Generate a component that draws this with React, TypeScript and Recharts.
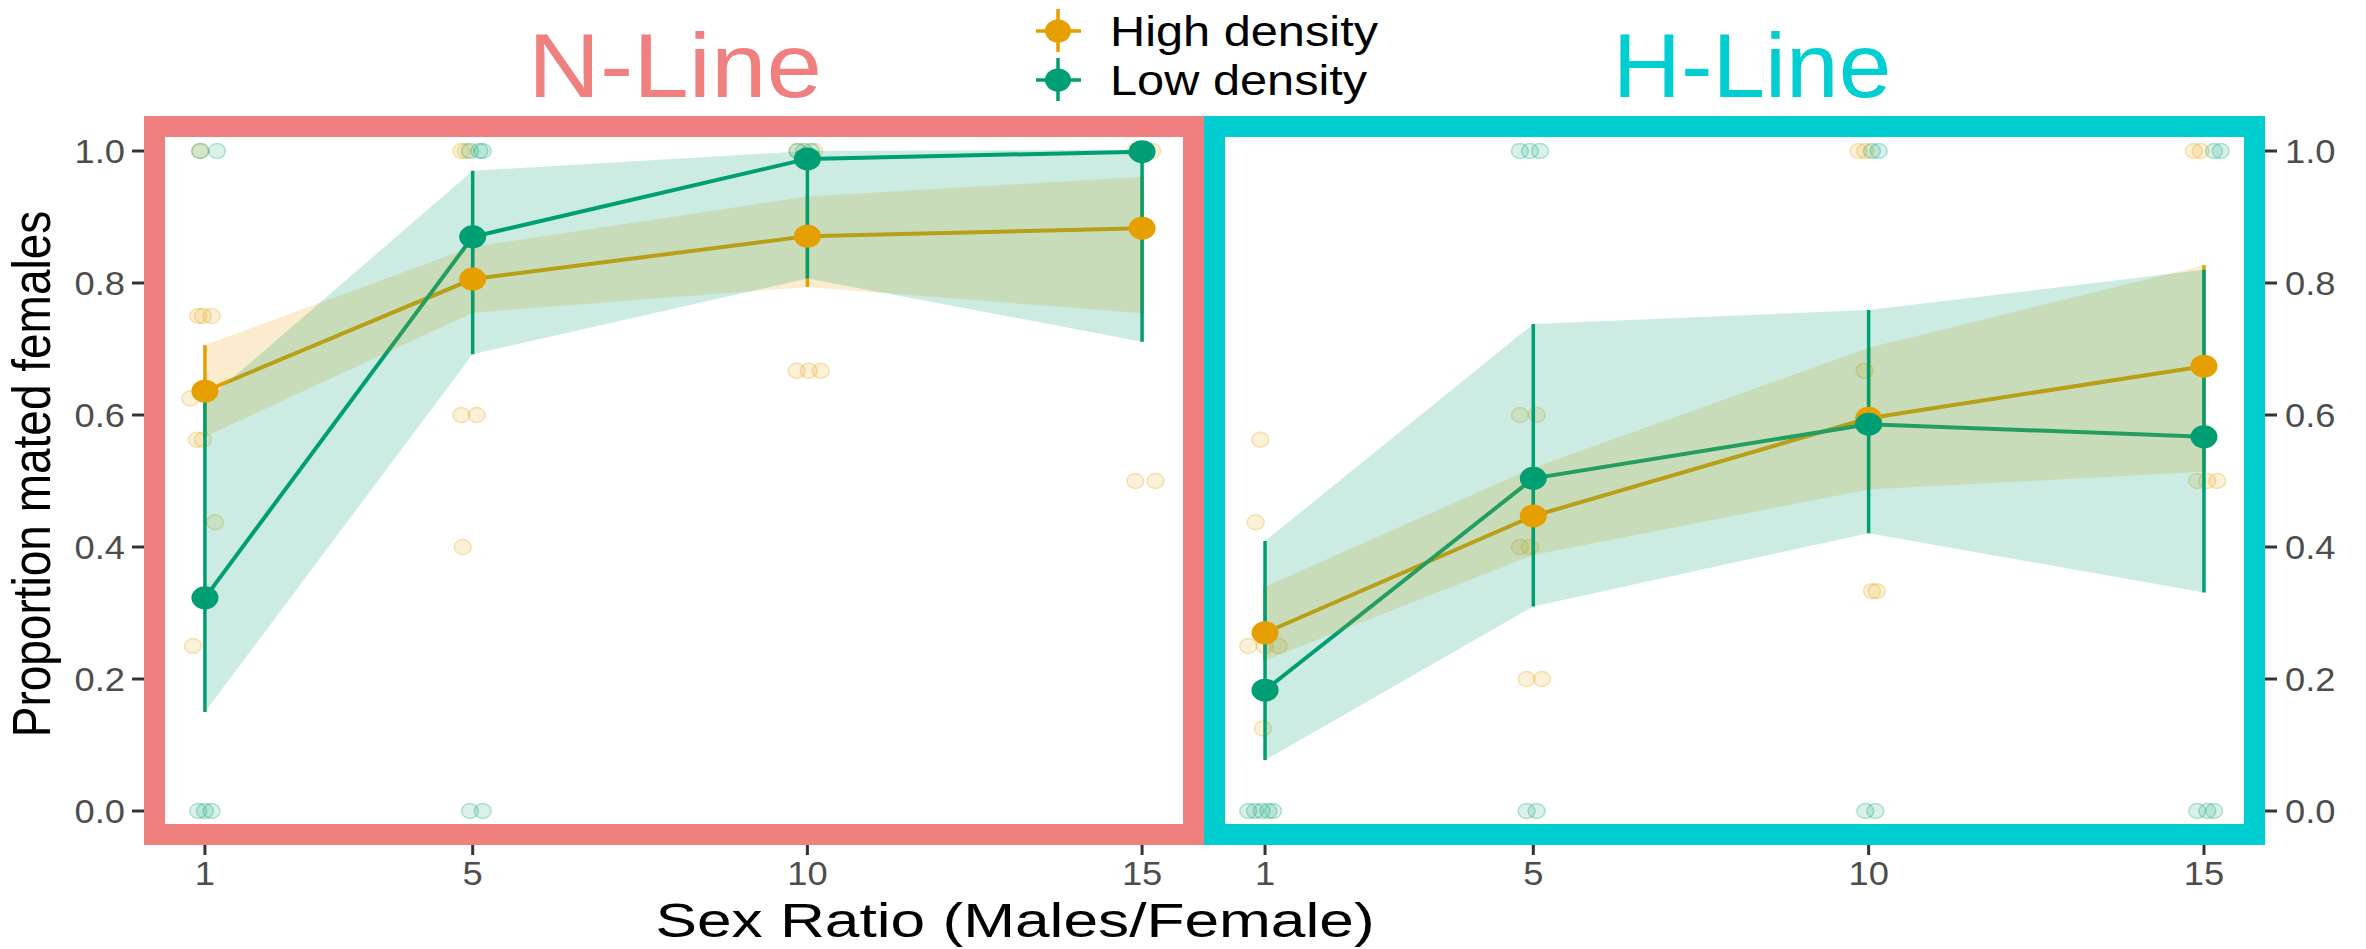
import React from 'react';
import {
  ComposedChart,
  Line,
  Area,
  Scatter,
  ErrorBar,
  XAxis,
  YAxis,
} from 'recharts';

// x positions (sex ratio) of the fitted means
const sexRatios = [1, 5, 10, 15];
const xTicks = [1, 5, 10, 15];
const yTicks = [0, 0.2, 0.4, 0.6, 0.8, 1.0];

// N-Line fitted means and confidence limits
const nHighMean = [0.636, 0.806, 0.871, 0.883];
const nHighLo = [0.567, 0.755, 0.794, 0.754];
const nHighHi = [0.706, 0.855, 0.931, 0.961];
const nLowMean = [0.323, 0.87, 0.988, 0.999];
const nLowLo = [0.15, 0.692, 0.807, 0.711];
const nLowHi = [0.62, 0.97, 1.0, 1.002];

// H-Line fitted means and confidence limits
const hHighMean = [0.27, 0.447, 0.595, 0.674];
const hHighLo = [0.228, 0.388, 0.487, 0.514];
const hHighHi = [0.34, 0.52, 0.702, 0.827];
const hLowMean = [0.183, 0.504, 0.586, 0.567];
const hLowLo = [0.077, 0.31, 0.421, 0.331];
const hLowHi = [0.409, 0.738, 0.759, 0.82];

// raw replicate proportions (jittered x as drawn)
const nHighRawX = [0.93, 0.9, 0.97, 1.1, 0.78, 0.88, 0.97, 1.15, 0.82, 4.83, 4.9, 4.83, 5.06, 4.85, 9.86, 10.1, 9.84, 10.02, 10.2, 14.9, 15.15, 14.9, 15.2];
const nHighRawY = [1, 0.75, 0.75, 0.75, 0.625, 0.5625, 0.5625, 0.4375, 0.25, 1, 1, 0.6, 0.6, 0.4, 1, 1, 0.667, 0.667, 0.667, 1, 1, 0.5, 0.5];
const nLowRawX = [0.93, 1.18, 0.9, 1.0, 1.1, 4.96, 5.1, 5.15, 4.96, 5.15, 9.85, 9.95, 10.05, 14.95, 15.05];
const nLowRawY = [1, 1, 0, 0, 0, 1, 1, 1, 0, 0, 1, 1, 1, 1, 1];
const hHighRawX = [0.93, 0.86, 0.75, 1.0, 1.2, 0.97, 4.8, 5.05, 4.8, 4.95, 4.9, 5.13, 9.85, 9.95, 9.94, 10.05, 10.12, 14.85, 14.95, 14.9, 15.05, 15.2];
const hHighRawY = [0.5625, 0.4375, 0.25, 0.25, 0.25, 0.125, 0.6, 0.6, 0.4, 0.4, 0.2, 0.2, 1, 1, 0.667, 0.333, 0.333, 1, 1, 0.5, 0.5, 0.5];
const hLowRawX = [0.75, 0.85, 0.95, 1.05, 1.12, 4.8, 4.95, 5.1, 4.9, 5.05, 10.05, 10.15, 9.95, 10.1, 15.15, 15.25, 14.9, 15.05, 15.15];
const hLowRawY = [0, 0, 0, 0, 0, 1, 1, 1, 0, 0, 1, 1, 0, 0, 1, 1, 0, 0, 0];

const ORANGE = '#E69F00';
const GREEN = '#009E73';
const FONT = '"Liberation Sans", Arial, Helvetica, sans-serif';
const STRETCH = 1.1;

const summary = (mean: number[], lo: number[], hi: number[]) =>
  sexRatios.map((x, i) => ({
    x,
    y: mean[i],
    band: [lo[i], hi[i]],
    err: [mean[i] - lo[i], hi[i] - mean[i]],
  }));

const raw = (xs: number[], ys: number[]) => xs.map((x, i) => ({ x, y: ys[i] }));

const XTick = (props: any) => {
  const { x, y, payload } = props;
  return (
    <text
      transform={`translate(${x},${y}) scale(${STRETCH},1)`}
      textAnchor="middle"
      dy="0.71em"
      fontSize={33}
      fontFamily={FONT}
      fill="#4D4D4D"
    >
      {payload.value}
    </text>
  );
};

const YTick = (props: any) => {
  const { x, y, payload, textAnchor } = props;
  return (
    <text
      transform={`translate(${x},${y}) scale(${STRETCH},1)`}
      textAnchor={textAnchor}
      dy="0.355em"
      fontSize={33}
      fontFamily={FONT}
      fill="#4D4D4D"
    >
      {Number(payload.value).toFixed(1)}
    </text>
  );
};

const rawDot = (color: string) => (p: any) => (
  <ellipse
    cx={p.cx}
    cy={p.cy}
    rx={8.5}
    ry={7.5}
    fill={color}
    fillOpacity={0.15}
    stroke={color}
    strokeOpacity={0.28}
    strokeWidth={1.5}
  />
);

const meanDot = (color: string) => (p: any) => (
  <ellipse cx={p.cx} cy={p.cy} rx={13.5} ry={11.5} fill={color} />
);

interface PanelProps {
  left: number;
  width: number;
  side: 'left' | 'right';
  high: ReturnType<typeof summary>;
  low: ReturnType<typeof summary>;
  highRaw: { x: number; y: number }[];
  lowRaw: { x: number; y: number }[];
}

const Panel = ({ left, width, side, high, low, highRaw, lowRaw }: PanelProps) => (
  <div style={{ position: 'absolute', left, top: 0 }}>
    <ComposedChart
      width={width}
      height={949}
      margin={{ top: 118, right: side === 'left' ? 7 : 0, bottom: 45, left: 0 }}
    >
      <XAxis
        type="number"
        dataKey="x"
        domain={[0.09, 15.91]}
        ticks={xTicks}
        allowDataOverflow
        axisLine={false}
        tickSize={11}
        tickMargin={7}
        tickLine={{ stroke: '#333333', strokeWidth: 3 }}
        tick={<XTick />}
        height={60}
      />
      <YAxis
        type="number"
        orientation={side}
        domain={[-0.05, 1.05]}
        ticks={yTicks}
        allowDataOverflow
        axisLine={false}
        tickSize={12}
        tickMargin={side === 'left' ? 7 : 8}
        tickLine={{ stroke: '#333333', strokeWidth: 3 }}
        tick={<YTick />}
        width={side === 'left' ? 144 : 101}
      />
      <Scatter data={highRaw} dataKey="y" shape={rawDot(ORANGE)} isAnimationActive={false} zIndex={80} />
      <Scatter data={lowRaw} dataKey="y" shape={rawDot(GREEN)} isAnimationActive={false} zIndex={81} />
      <Line data={high} dataKey="y" stroke={ORANGE} strokeWidth={4} dot={false} activeDot={false} isAnimationActive={false} zIndex={90} />
      <Line data={low} dataKey="y" stroke={GREEN} strokeWidth={4} dot={false} activeDot={false} isAnimationActive={false} zIndex={91} />
      <Area data={high} dataKey="band" stroke="none" fill={ORANGE} fillOpacity={0.2} isAnimationActive={false} zIndex={110} />
      <Area data={low} dataKey="band" stroke="none" fill={GREEN} fillOpacity={0.2} isAnimationActive={false} zIndex={111} />
      <Line data={high} dataKey="y" stroke="none" dot={false} activeDot={false} isAnimationActive={false} zIndex={120}>
        <ErrorBar dataKey="err" width={0} stroke={ORANGE} strokeWidth={3.5} isAnimationActive={false} zIndex={120} />
      </Line>
      <Line data={low} dataKey="y" stroke="none" dot={false} activeDot={false} isAnimationActive={false} zIndex={121}>
        <ErrorBar dataKey="err" width={0} stroke={GREEN} strokeWidth={3.5} isAnimationActive={false} zIndex={121} />
      </Line>
      <Scatter data={high} dataKey="y" shape={meanDot(ORANGE)} isAnimationActive={false} zIndex={130} />
      <Scatter data={low} dataKey="y" shape={meanDot(GREEN)} isAnimationActive={false} zIndex={131} />
    </ComposedChart>
  </div>
);

const legendItems = [
  { label: 'High density', color: ORANGE, cy: 31 },
  { label: 'Low density', color: GREEN, cy: 80 },
];

export default function App() {
  return (
    <div style={{ position: 'absolute', left: 0, top: 0, width: 2366, height: 949, background: '#fff', overflow: 'hidden' }}>
      <svg width={2366} height={949} style={{ position: 'absolute', left: 0, top: 0 }} fontFamily={FONT}>
        <text transform="translate(675,97) scale(1.11,1)" textAnchor="middle" fontSize={90} fill="#F08080">
          N-Line
        </text>
        <text transform="translate(1752,97) scale(1.05,1)" textAnchor="middle" fontSize={90} fill="#00CED1">
          H-Line
        </text>
        {legendItems.map((it) => (
          <g key={it.label}>
            <line x1={1036} x2={1081} y1={it.cy} y2={it.cy} stroke={it.color} strokeWidth={3.5} />
            <line x1={1058} x2={1058} y1={it.cy - 22} y2={it.cy + 21} stroke={it.color} strokeWidth={3.5} />
            <ellipse cx={1058} cy={it.cy} rx={13} ry={11.5} fill={it.color} />
            <text transform={`translate(1110,${it.cy + 15}) scale(1.16,1)`} fontSize={42} fill="#000">
              {it.label}
            </text>
          </g>
        ))}
        <text transform="translate(50,474) scale(1.16,1) rotate(-90)" textAnchor="middle" fontSize={46} fill="#000">
          Proportion mated females
        </text>
        <text transform="translate(1015,937) scale(1.27,1)" textAnchor="middle" fontSize={49} fill="#000">
          Sex Ratio (Males/Female)
        </text>
      </svg>
      <Panel
        left={0}
        width={1210}
        side="left"
        high={summary(nHighMean, nHighLo, nHighHi)}
        low={summary(nLowMean, nLowLo, nLowHi)}
        highRaw={raw(nHighRawX, nHighRawY)}
        lowRaw={raw(nLowRawX, nLowRawY)}
      />
      <Panel
        left={1204}
        width={1162}
        side="right"
        high={summary(hHighMean, hHighLo, hHighHi)}
        low={summary(hLowMean, hLowLo, hLowHi)}
        highRaw={raw(hHighRawX, hHighRawY)}
        lowRaw={raw(hLowRawX, hLowRawY)}
      />
      <div style={{ position: 'absolute', left: 144, top: 116, width: 1060, height: 729, boxSizing: 'border-box', border: '21px solid #F08080', pointerEvents: 'none' }} />
      <div style={{ position: 'absolute', left: 1204, top: 116, width: 1061, height: 729, boxSizing: 'border-box', border: '21px solid #00CED1', pointerEvents: 'none' }} />
    </div>
  );
}
